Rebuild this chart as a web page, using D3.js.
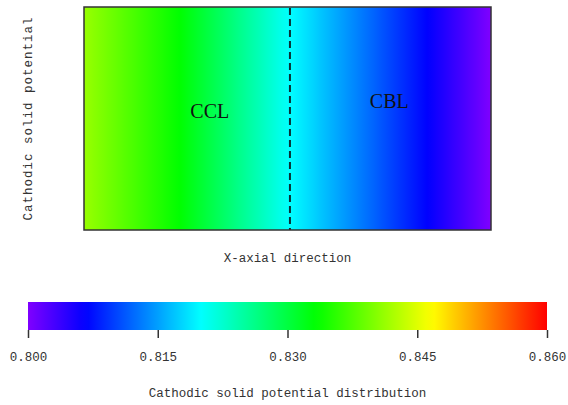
<!DOCTYPE html>
<html>
<head>
<meta charset="utf-8">
<script src="https://cdn.jsdelivr.net/npm/d3@7"></script>
<style>
html,body{margin:0;padding:0;background:#fff;}
svg{display:block;}
</style>
</head>
<body>
<svg id="chart" width="568" height="405"></svg>
<script>
// Data
const positions = [0, 0.1, 0.236, 0.37, 0.506, 0.65, 0.843, 1.0];      // normalized X-axial position
const potentials = [0.8413, 0.8379, 0.8333, 0.8267, 0.8200, 0.8143, 0.8067, 0.8000]; // cathodic solid potential
const interfacePos = 0.506;   // CCL | CBL boundary
const regionLabels = ["CCL", "CBL"];
const regionLabelPos = [0.309, 0.75];
const colorTicks = [0.800, 0.815, 0.830, 0.845, 0.860];
const colorDomain = [0.800, 0.860];

const svg = d3.select("#chart");
const plot = {x0: 84, x1: 491, y0: 7, y1: 230};
const x = d3.scaleLinear().domain([0, 1]).range([plot.x0, plot.x1]);
const y = d3.scaleLinear().domain([0, 1]).range([plot.y1, plot.y0]);

const tScale = d3.scaleLinear().domain(colorDomain).range([0, 1]).clamp(true);
const cmap = v => d3.hsl(270 * (1 - tScale(v)), 1, 0.5).formatHex();

const defs = svg.append("defs");
// field gradient
const fg = defs.append("linearGradient").attr("id", "field").attr("x1", "0%").attr("x2", "100%").attr("y1", "0%").attr("y2", "0%");
for (let i = 0; i < positions.length - 1; i++) {
  const n = 12;
  for (let k = 0; k <= n; k++) {
    const f = k / n;
    const p = positions[i] + (positions[i + 1] - positions[i]) * f;
    const v = potentials[i] + (potentials[i + 1] - potentials[i]) * f;
    fg.append("stop").attr("offset", (p * 100) + "%").attr("stop-color", cmap(v));
  }
}
// colorbar gradient
const cb = {x0: 28, x1: 547, y0: 302, y1: 330};
const c = d3.scaleLinear().domain(colorDomain).range([cb.x0, cb.x1]);
const cg = defs.append("linearGradient").attr("id", "cbar").attr("x1", "0%").attr("x2", "100%").attr("y1", "0%").attr("y2", "0%");
d3.range(0, 61).forEach(i => {
  const v = colorDomain[0] + (colorDomain[1] - colorDomain[0]) * i / 60;
  cg.append("stop").attr("offset", (i / 60 * 100) + "%").attr("stop-color", cmap(v));
});

// main field
svg.append("rect")
  .attr("x", x(0)).attr("y", y(1))
  .attr("width", x(1) - x(0)).attr("height", y(0) - y(1))
  .attr("fill", "url(#field)");

// interface dashed line
svg.append("line")
  .attr("x1", x(interfacePos)).attr("x2", x(interfacePos))
  .attr("y1", y(1) + 1).attr("y2", y(0))
  .attr("stroke", "#0b2f33").attr("stroke-width", 2)
  .attr("stroke-dasharray", "7,4");

// border
svg.append("rect")
  .attr("x", x(0)).attr("y", y(1))
  .attr("width", x(1) - x(0)).attr("height", y(0) - y(1))
  .attr("fill", "none").attr("stroke", "#333").attr("stroke-width", 1.5);

// region labels
const labelY = [118, 108];
regionLabels.forEach((t, i) => {
  svg.append("text")
    .attr("x", x(regionLabelPos[i])).attr("y", labelY[i])
    .attr("text-anchor", "middle")
    .attr("font-family", "Liberation Serif, serif")
    .attr("font-size", 20)
    .attr("fill", "#111")
    .text(t);
});

const mono = "Liberation Mono, DejaVu Sans Mono, monospace";
// axis titles
svg.append("text")
  .attr("transform", `translate(32,${(plot.y0 + plot.y1) / 2}) rotate(-90)`)
  .attr("text-anchor", "middle")
  .attr("font-family", mono).attr("font-size", 12.5)
  .attr("letter-spacing", 1)
  .attr("fill", "#333")
  .text("Cathodic solid potential");

svg.append("text")
  .attr("x", (plot.x0 + plot.x1) / 2).attr("y", 262)
  .attr("text-anchor", "middle")
  .attr("font-family", mono).attr("font-size", 12.5)
  .attr("fill", "#333")
  .text("X-axial direction");

// colorbar
svg.append("rect")
  .attr("x", cb.x0).attr("y", cb.y0)
  .attr("width", cb.x1 - cb.x0).attr("height", cb.y1 - cb.y0)
  .attr("fill", "url(#cbar)");

const axis = d3.axisBottom(c).tickValues(colorTicks).tickFormat(d3.format(".3f")).tickSize(8).tickPadding(14);
const ag = svg.append("g").attr("transform", `translate(0,${cb.y1})`).call(axis);
ag.select(".domain").remove();
ag.selectAll(".tick line").attr("stroke", "#333").attr("stroke-width", 1.5);
ag.selectAll(".tick text").attr("font-family", mono).attr("font-size", 12.5).attr("fill", "#333");

svg.append("text")
  .attr("x", (cb.x0 + cb.x1) / 2).attr("y", 397)
  .attr("text-anchor", "middle")
  .attr("font-family", mono).attr("font-size", 12.5)
  .attr("fill", "#333")
  .text("Cathodic solid potential distribution");
</script>
</body>
</html>
